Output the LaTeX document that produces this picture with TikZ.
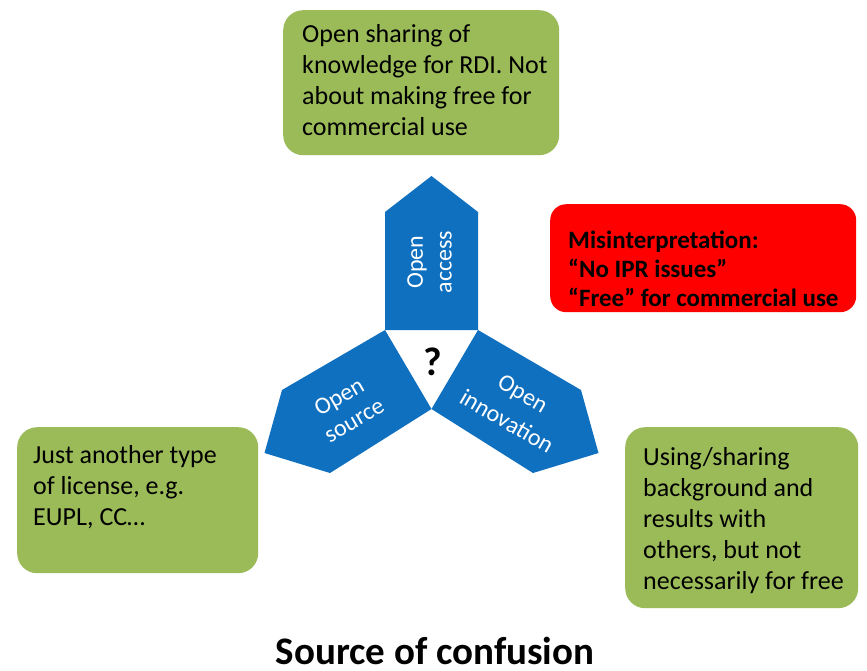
\documentclass[tikz,border=0pt]{standalone}
\usepackage{fontspec}
\setmainfont{Carlito}
\definecolor{armblue}{RGB}{16,112,192}
\definecolor{boxgreen}{RGB}{155,187,89}
\definecolor{alertred}{RGB}{255,0,0}

\begin{document}
\begin{tikzpicture}[x=1pt,y=-1pt,
  greenbox/.style={fill=boxgreen, rounded corners=20pt, inner sep=0pt, anchor=north west},
  redbox/.style={fill=alertred, rounded corners=16pt, inner sep=0pt, anchor=north west},
  boxtext/.style={anchor=north west, align=left, inner sep=0pt, font=\fontsize{26}{31}\selectfont},
  alerttext/.style={anchor=north west, align=left, inner sep=0pt, font=\bfseries\fontsize{25}{29}\selectfont},
  armtext/.style={text=white, inner sep=0pt, font=\fontsize{24}{29}\selectfont},
  arm/.style={fill=armblue}]
\useasboundingbox (0,0) rectangle (867,670);

% central triangle corners
\coordinate (tl) at (385,330);
\coordinate (tr) at (478,330);
\coordinate (bt) at (431.5,409);

% three arrow-shaped arms around the triangle
\fill[arm] (tl) -- (385,212) -- (431.5,176) -- (478,212) -- (tr) -- cycle;
\fill[arm] (tl) -- (282,390) -- (264.5,453) -- (330,473) -- (bt) -- cycle;
\fill[arm] (tr) -- (581,390) -- (598.5,453) -- (533,473) -- (bt) -- cycle;

% arm labels, one line per node
\node[armtext, rotate=90]  (accesslbl1) at (417,262) {Open};
\node[armtext, rotate=90]  (accesslbl2) at (446,262) {access};
\node[armtext, rotate=30]  (sourcelbl1) at (340,398) {Open};
\node[armtext, rotate=30]  (sourcelbl2) at (355,422) {source};
\node[armtext, rotate=-30] (innovlbl1)  at (522,395) {Open};
\node[armtext, rotate=-30] (innovlbl2)  at (507,421) {innovation};

\node[font=\bfseries\fontsize{40}{48}\selectfont, inner sep=0pt] (qmark) at (433,362) {?};

% explanation boxes
\node[greenbox, minimum width=276pt, minimum height=145pt] (accessbox) at (283,10) {};
\node[boxtext] (accesstxt) at (302,24) {Open sharing of\\knowledge for RDI. Not\\about making free for\\commercial use};

\node[greenbox, minimum width=241pt, minimum height=146pt] (sourcebox) at (17,427) {};
\node[boxtext] (sourcetxt) at (33,445.5) {Just another type\\of license, e.g.\\EUPL, CC…};

\node[greenbox, minimum width=233pt, minimum height=181pt] (innovbox) at (625,427) {};
\node[boxtext] (innovtxt) at (643,447) {Using/sharing\\background and\\results with\\others, but not\\necessarily for free};

\node[redbox, minimum width=306pt, minimum height=108pt] (alertbox) at (550,204) {};
\node[alerttext] (alerttxt) at (568,231) {Misinterpretation:\\“No IPR issues”\\“Free” for commercial use};

\node[anchor=base, font=\bfseries\fontsize{39}{47}\selectfont, inner sep=0pt] (title) at (435,664) {Source of confusion};
\end{tikzpicture}
\end{document}
